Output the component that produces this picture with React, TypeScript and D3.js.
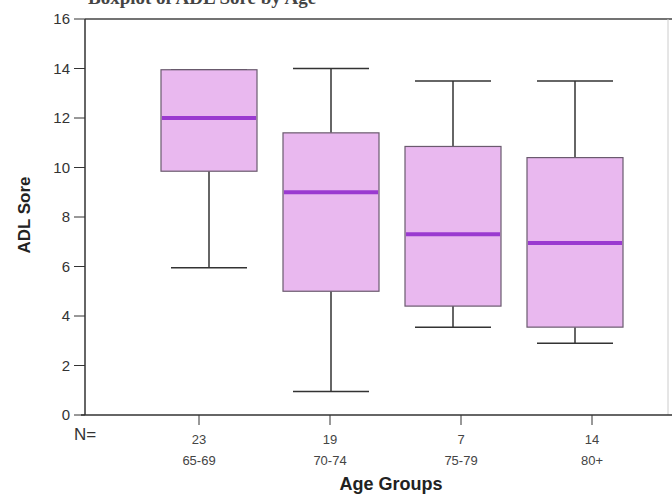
import React from "react";
import * as d3 from "d3";

const groups = ["65-69", "70-74", "75-79", "80+"];
const counts = [23, 19, 7, 14];
const whiskerLow = [5.95, 0.95, 3.55, 2.9];
const q1 = [9.85, 5.0, 4.4, 3.55];
const medians = [12.0, 9.0, 7.3, 6.95];
const q3 = [13.95, 11.4, 10.85, 10.4];
const whiskerHigh = [13.95, 14.0, 13.5, 13.5];
const yTicks = [0, 2, 4, 6, 8, 10, 12, 14, 16];

const W = 672;
const H = 497;
const left = 85;
const top = 19;
const bottom = 415;
const right = 668;

export default function App() {
  const y = d3.scaleLinear().domain([0, 16]).range([bottom, top]);
  // box positions and axis tick positions (as seen in the reference)
  const xBox = d3.scalePoint<string>().domain(groups).range([209, 575]);
  const xTick = d3.scalePoint<string>().domain(groups).range([199, 592]);
  const boxW = 96;
  const capW = 76;
  const sans = "'Liberation Sans', Arial, Helvetica, sans-serif";

  return (
    <svg width={W} height={H} style={{ position: "absolute", left: 0, top: 0, background: "#fff" }}>
      <text x={88} y={4} fontFamily="'Liberation Serif', serif" fontWeight="bold" fontSize={19} fill="#444">
        Boxplot of ADL Sore by Age
      </text>
      {/* frame */}
      <line x1={left} x2={right + 4} y1={top} y2={top} stroke="#444" strokeWidth={1.5} />
      <line x1={right} x2={right} y1={top} y2={bottom} stroke="#ccc" strokeWidth={1} />
      <line x1={left} x2={left} y1={top} y2={bottom} stroke="#333" strokeWidth={1.5} />
      <line x1={left - 4} x2={right + 4} y1={bottom} y2={bottom} stroke="#333" strokeWidth={1.5} />
      {/* y ticks */}
      {yTicks.map((t) => (
        <g key={t}>
          <line x1={left - 11} x2={left} y1={y(t)} y2={y(t)} stroke="#333" strokeWidth={1} />
          <text x={left - 15} y={y(t)} dy="0.35em" textAnchor="end" fontFamily={sans} fontSize={15} fill="#333">
            {t}
          </text>
        </g>
      ))}
      <text
        transform={`translate(30,215) rotate(-90)`}
        textAnchor="middle"
        fontFamily={sans}
        fontWeight="bold"
        fontSize={17}
        fill="#222"
      >
        ADL Sore
      </text>
      {/* x ticks */}
      <text x={74} y={440} fontFamily={sans} fontSize={17} fill="#333">N=</text>
      {groups.map((g, i) => (
        <g key={g}>
          <line x1={xTick(g)} x2={xTick(g)} y1={bottom} y2={bottom + 10} stroke="#333" strokeWidth={1} />
          <text x={xTick(g)} y={444} textAnchor="middle" fontFamily={sans} fontSize={13} fill="#444">
            {counts[i]}
          </text>
          <text x={xTick(g)} y={465} textAnchor="middle" fontFamily={sans} fontSize={13} fill="#444">
            {g}
          </text>
        </g>
      ))}
      <text x={391} y={490} textAnchor="middle" fontFamily={sans} fontWeight="bold" fontSize={18} fill="#222">
        Age Groups
      </text>
      {/* boxes */}
      {groups.map((g, i) => {
        const cx = xBox(g)!;
        return (
          <g key={g}>
            <line x1={cx} x2={cx} y1={y(whiskerHigh[i])} y2={y(q3[i])} stroke="#333" strokeWidth={1.5} />
            <line x1={cx} x2={cx} y1={y(q1[i])} y2={y(whiskerLow[i])} stroke="#333" strokeWidth={1.5} />
            <line x1={cx - capW / 2} x2={cx + capW / 2} y1={y(whiskerHigh[i])} y2={y(whiskerHigh[i])} stroke="#333" strokeWidth={1.5} />
            <line x1={cx - capW / 2} x2={cx + capW / 2} y1={y(whiskerLow[i])} y2={y(whiskerLow[i])} stroke="#333" strokeWidth={1.5} />
            <rect
              x={cx - boxW / 2}
              y={y(q3[i])}
              width={boxW}
              height={y(q1[i]) - y(q3[i])}
              fill="#e9b8ef"
              stroke="#6a5a6e"
              strokeWidth={1.2}
            />
            <line
              x1={cx - boxW / 2 + 1}
              x2={cx + boxW / 2 - 1}
              y1={y(medians[i])}
              y2={y(medians[i])}
              stroke="#9a3ad0"
              strokeWidth={4}
            />
          </g>
        );
      })}
    </svg>
  );
}
